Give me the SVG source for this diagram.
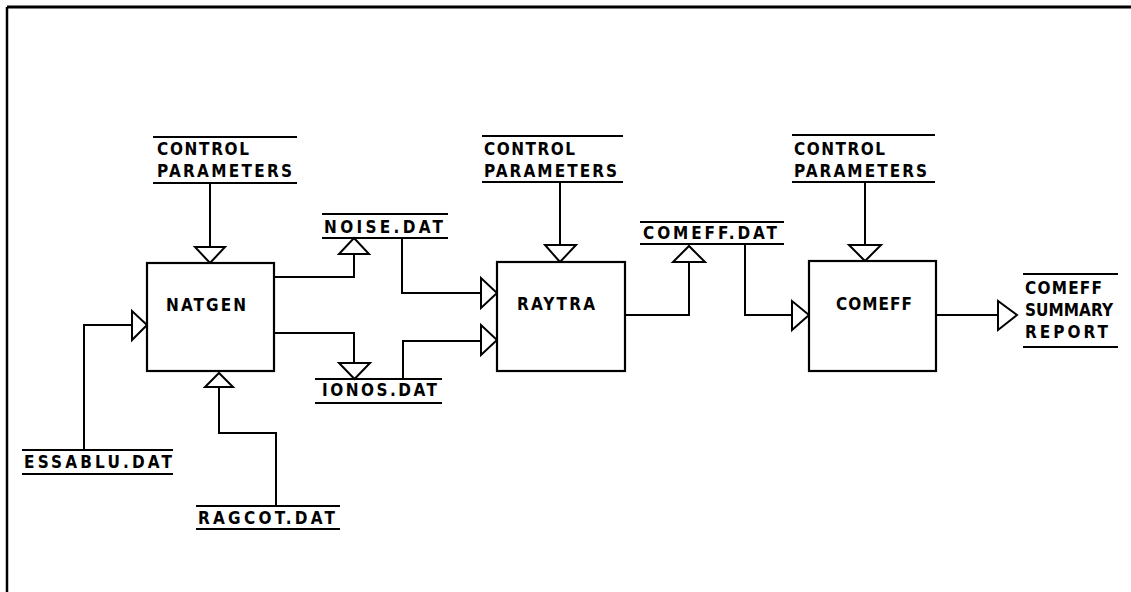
<svg xmlns="http://www.w3.org/2000/svg" width="1131" height="592" viewBox="0 0 1131 592">
<style>
.ln{fill:none;stroke:#000;stroke-width:2}
.ul{fill:none;stroke:#000;stroke-width:2.2}
.tri{fill:#fff;stroke:#000;stroke-width:2;stroke-linejoin:miter}
.box{fill:#fff;stroke:#000;stroke-width:2.2}
.t{font-family:"DejaVu Sans Condensed","Liberation Sans",Arial,sans-serif;font-stretch:condensed;font-size:17px;font-weight:bold;fill:#000}
</style>
<rect width="1131" height="592" fill="#fff"/>
<g id="frame">
<path d="M7,7 H1131" stroke="#000" stroke-width="3" fill="none"/>
<path d="M7,7 V592" stroke="#000" stroke-width="2.5" fill="none"/>
</g>
<g id="connectors">
<path class="ln" d="M210,183 V247"/><polygon class="tri" points="195,247 225,247 210,263"/>
<path class="ln" d="M560,182 V245"/><polygon class="tri" points="545,245 576,245 560,262"/>
<path class="ln" d="M865,182 V245"/><polygon class="tri" points="849,245 881,245 865,261"/>
<path class="ln" d="M274,277 H354 V254"/><polygon class="tri" points="339,254 369,254 354,238"/>
<path class="ln" d="M274,333 H354 V363"/><polygon class="tri" points="339,363 370,363 354.5,379"/>
<path class="ln" d="M402,238 V293 H481"/><polygon class="tri" points="481,278 481,308 497,293"/>
<path class="ln" d="M403,379 V341 H481"/><polygon class="tri" points="481,325 481,355 497,340"/>
<path class="ln" d="M84,450 V325 H132"/><polygon class="tri" points="132,311 132,340 147,325"/>
<path class="ln" d="M276,506 V433 H219 V387"/><polygon class="tri" points="205,387 233,387 219,373"/>
<path class="ln" d="M625,315 H689 V262"/><polygon class="tri" points="673,262 705,262 689,246"/>
<path class="ln" d="M745,244 V315 H792"/><polygon class="tri" points="792,301 792,330 809,315"/>
<path class="ln" d="M936,315 H998"/><polygon class="tri" points="998,301 998,330 1017,315"/>
</g>
<g id="natgen">
<rect class="box" x="147" y="263" width="127" height="108"/>
<text class="t" x="166" y="311" textLength="80" lengthAdjust="spacing">NATGEN</text>
</g>
<g id="raytra">
<rect class="box" x="497" y="262" width="128" height="109"/>
<text class="t" x="517" y="310" textLength="78" lengthAdjust="spacing">RAYTRA</text>
</g>
<g id="comeff">
<rect class="box" x="809" y="261" width="127" height="110"/>
<text class="t" x="836" y="310" textLength="76" lengthAdjust="spacing">COMEFF</text>
</g>
<g id="cp-natgen">
<path class="ul" d="M153,137 H297 M153,183 H297"/>
<text class="t" x="157" y="155" textLength="92" lengthAdjust="spacing">CONTROL</text>
<text class="t" x="157" y="177" textLength="135" lengthAdjust="spacing">PARAMETERS</text>
</g>
<g id="cp-raytra">
<path class="ul" d="M482,136 H623 M482,182 H623"/>
<text class="t" x="484" y="155" textLength="91" lengthAdjust="spacing">CONTROL</text>
<text class="t" x="484" y="177" textLength="133" lengthAdjust="spacing">PARAMETERS</text>
</g>
<g id="cp-comeff">
<path class="ul" d="M792,135 H935 M792,182 H935"/>
<text class="t" x="794" y="155" textLength="91" lengthAdjust="spacing">CONTROL</text>
<text class="t" x="794" y="177" textLength="133" lengthAdjust="spacing">PARAMETERS</text>
</g>
<g id="noise-dat">
<path class="ul" d="M322,214 H448 M322,238 H448"/>
<text class="t" x="324" y="233" textLength="119" lengthAdjust="spacing">NOISE.DAT</text>
</g>
<g id="ionos-dat">
<path class="ul" d="M315,379 H442 M315,403 H442"/>
<text class="t" x="322" y="396" textLength="115" lengthAdjust="spacing">IONOS.DAT</text>
</g>
<g id="comeff-dat">
<path class="ul" d="M640,222 H784 M640,244 H784"/>
<text class="t" x="643" y="239" textLength="134" lengthAdjust="spacing">COMEFF.DAT</text>
</g>
<g id="essablu-dat">
<path class="ul" d="M22,450 H173 M22,474 H173"/>
<text class="t" x="24" y="468" textLength="148" lengthAdjust="spacing">ESSABLU.DAT</text>
</g>
<g id="ragcot-dat">
<path class="ul" d="M196,506 H340 M196,529 H340"/>
<text class="t" x="198" y="524" textLength="137" lengthAdjust="spacing">RAGCOT.DAT</text>
</g>
<g id="summary-report">
<path class="ul" d="M1023,274 H1118 M1023,347 H1118"/>
<text class="t" x="1025" y="294" textLength="77" lengthAdjust="spacing">COMEFF</text>
<text class="t" x="1025" y="316" textLength="88" lengthAdjust="spacing">SUMMARY</text>
<text class="t" x="1025" y="338" textLength="83" lengthAdjust="spacing">REPORT</text>
</g>
</svg>
